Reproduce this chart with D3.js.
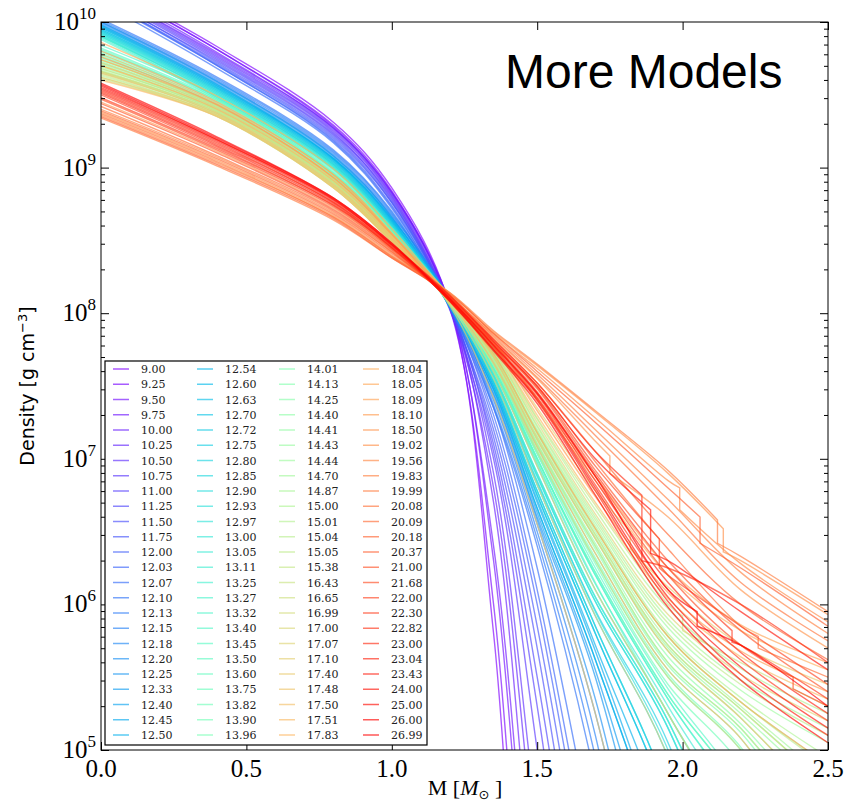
<!DOCTYPE html>
<html><head><meta charset="utf-8">
<script src="https://cdn.jsdelivr.net/npm/d3@7"></script>
<style>body{margin:0;background:#fff}</style>
</head><body>
<svg id="c" width="850" height="804"></svg>
<script>
// ---- data (log10 density) ----
const massGrid = [0, 0.4, 0.8, 1.0, 1.2, 1.35, 1.5, 1.7, 1.95, 2.2, 2.5];
const modelLabels = ["9.00","9.25","9.50","9.75","10.00","10.25","10.50","10.75","11.00","11.25","11.50","11.75","12.00","12.03","12.07","12.10","12.13","12.15","12.18","12.20","12.25","12.33","12.40","12.45","12.50",
"12.54","12.60","12.63","12.70","12.72","12.75","12.80","12.85","12.90","12.93","12.97","13.00","13.05","13.11","13.25","13.27","13.32","13.40","13.45","13.50","13.60","13.75","13.82","13.90","13.96",
"14.01","14.13","14.25","14.40","14.41","14.43","14.44","14.70","14.87","15.00","15.01","15.04","15.05","15.38","16.43","16.65","16.99","17.00","17.07","17.10","17.40","17.48","17.50","17.51","17.83",
"18.04","18.05","18.09","18.10","18.50","19.02","19.56","19.83","19.99","20.08","20.09","20.18","20.37","21.00","21.68","22.00","22.30","22.82","23.00","23.04","23.43","24.00","25.00","26.00","26.99"];
const logRho = [
[10.27,9.83,9.31,8.86,8.05,5.8,2.0,0,0,0,0],
[10.25,9.81,9.29,8.84,8.03,6.0,2.5,0,0,0,0],
[10.26,9.81,9.28,8.83,8.06,6.3,3.0,0,0,0,0],
[10.22,9.78,9.27,8.83,8.04,6.4,3.3,0,0,0,0],
[10.24,9.79,9.27,8.82,8.07,6.7,3.8,1,0,0,0],
[10.21,9.76,9.25,8.80,8.03,6.8,4.2,1,0,0,0],
[10.22,9.77,9.26,8.81,8.05,6.9,4.5,1.5,0,0,0],
[10.19,9.74,9.23,8.79,8.02,7.0,5.0,2,0,0,0],
[10.20,9.75,9.24,8.78,8.06,7.05,5.3,2.5,0,0,0],
[10.17,9.73,9.22,8.77,8.04,7.1,5.5,3,0,0,0],
[10.18,9.72,9.21,8.76,8.05,7.15,5.7,3.2,0,0,0],
[10.16,9.71,9.20,8.76,8.03,7.2,5.85,3.5,0,0,0],
[10.15,9.70,9.19,8.74,8.06,7.25,6.0,3.8,1,0,0],
[10.16,9.70,9.18,8.73,8.04,7.3,6.1,4.0,1,0,0],
[10.13,9.68,9.17,8.72,8.05,7.35,6.25,4.3,1.5,0,0],
[10.02,9.62,9.12,8.70,8.04,7.35,6.4,4.8,2,0,0],
[10.00,9.60,9.10,8.68,8.08,7.37,6.45,4.95,2.2,0,0],
[10.01,9.61,9.11,8.69,8.05,7.4,6.5,5.1,2.5,0,0],
[9.99,9.59,9.09,8.67,8.09,7.42,6.55,5.25,3.0,0.5,0],
[9.98,9.58,9.08,8.66,8.06,7.44,6.58,5.35,3.2,1,0],
[10.00,9.59,9.08,8.66,8.04,7.45,6.6,5.5,3.5,1,0],
[9.97,9.57,9.07,8.65,8.08,7.47,6.63,5.55,3.8,1.5,0],
[9.96,9.56,9.06,8.64,8.05,7.48,6.66,5.62,4.1,1.5,0],
[9.98,9.57,9.06,8.65,8.10,7.5,6.7,5.68,4.2,2,0],
[9.95,9.55,9.05,8.63,8.06,7.5,6.72,5.72,4.4,2,0],
[9.97,9.56,9.06,8.64,8.04,7.48,6.66,5.62,4.1,1.5,0],
[9.94,9.54,9.04,8.62,8.08,7.52,6.75,5.8,4.6,2.5,0],
[9.96,9.55,9.05,8.63,8.07,7.53,6.78,5.85,4.7,2.8,0],
[9.93,9.53,9.03,8.61,8.05,7.55,6.82,5.92,4.95,3.2,0],
[9.95,9.54,9.04,8.62,8.09,7.52,6.75,5.8,4.6,2.5,0],
[9.92,9.52,9.02,8.60,8.06,7.55,6.84,5.96,5.05,3.5,1],
[9.94,9.53,9.03,8.61,8.08,7.57,6.88,6.02,5.15,3.8,1],
[9.91,9.51,9.02,8.60,8.05,7.53,6.78,5.85,4.7,2.8,0],
[9.93,9.52,9.02,8.60,8.09,7.58,6.9,6.05,5.2,4.0,1.5],
[9.90,9.50,9.01,8.59,8.06,7.56,6.85,5.95,5.0,3.4,1],
[9.92,9.51,9.01,8.59,8.07,7.6,6.95,6.1,5.25,4.3,2],
[9.90,9.50,9.00,8.58,8.10,7.57,6.88,6.02,5.15,3.8,1],
[9.91,9.49,9.00,8.58,8.06,7.6,6.97,6.14,5.3,4.45,2.5],
[9.89,9.48,8.99,8.57,8.08,7.58,6.9,6.05,5.2,4.0,1.5],
[9.90,9.48,8.99,8.57,8.07,7.62,7.0,6.2,5.35,4.6,3],
[9.88,9.47,8.98,8.57,8.09,7.62,7.0,6.22,5.38,4.7,3.2],
[9.84,9.49,8.99,8.59,8.07,7.62,7.0,6.2,5.35,4.6,3.2],
[9.80,9.46,8.96,8.57,8.10,7.63,7.03,6.25,5.42,4.75,3.5],
[9.82,9.47,8.97,8.58,8.06,7.6,6.98,6.15,5.25,4.4,3],
[9.78,9.44,8.95,8.56,8.11,7.65,7.05,6.3,5.5,5.0,4.0],
[9.81,9.46,8.96,8.57,8.08,7.62,7.0,6.22,5.38,4.7,3.2],
[9.76,9.43,8.94,8.55,8.09,7.66,7.08,6.35,5.55,5.08,4.2],
[9.79,9.45,8.95,8.56,8.07,7.64,7.04,6.28,5.45,4.9,3.8],
[9.74,9.42,8.93,8.54,8.10,7.68,7.1,6.4,5.6,5.15,4.4],
[9.77,9.43,8.94,8.55,8.06,7.65,7.06,6.32,5.52,5.02,4.1],
[9.72,9.41,8.92,8.54,8.09,7.7,7.13,6.45,5.68,5.22,4.6],
[9.75,9.42,8.93,8.54,8.08,7.67,7.09,6.38,5.58,5.12,4.3],
[9.70,9.40,8.91,8.53,8.11,7.7,7.15,6.48,5.72,5.28,4.75],
[9.73,9.41,8.92,8.53,8.07,7.69,7.11,6.42,5.64,5.18,4.5],
[9.68,9.39,8.90,8.52,8.10,7.72,7.18,6.52,5.78,5.33,4.9],
[9.71,9.40,8.91,8.52,8.08,7.7,7.14,6.46,5.7,5.25,4.7],
[9.66,9.38,8.89,8.51,8.12,7.73,7.2,6.56,5.84,5.41,5.05],
[9.69,9.39,8.90,8.52,8.07,7.71,7.17,6.5,5.75,5.3,4.8],
[9.65,9.37,8.88,8.50,8.11,7.74,7.23,6.6,5.9,5.48,5.15],
[9.67,9.38,8.89,8.51,8.08,7.72,7.19,6.54,5.8,5.36,4.95],
[9.63,9.36,8.87,8.50,8.12,7.76,7.27,6.65,5.97,5.56,5.25],
[9.66,9.37,8.88,8.50,8.09,7.72,7.18,6.52,5.78,5.33,4.88],
[9.62,9.35,8.86,8.49,8.10,7.74,7.22,6.58,5.87,5.45,5.1],
[9.64,9.36,8.87,8.50,8.08,7.68,7.1,6.4,5.6,5.15,4.4],
[9.68,9.39,8.90,8.52,8.11,7.77,7.28,6.68,6.0,5.6,5.3],
[9.61,9.35,8.86,8.49,8.07,7.65,7.05,6.3,5.5,5.0,4.0],
[9.70,9.40,8.91,8.53,8.09,7.7,7.15,6.48,5.72,5.28,4.75],
[9.74,9.42,8.93,8.54,8.06,7.55,6.82,5.92,4.95,3.2,0],
[9.66,9.38,8.89,8.51,8.12,7.75,7.25,6.62,5.93,5.52,5.2],
[9.72,9.41,8.92,8.53,8.08,7.6,6.95,6.1,5.25,4.3,2],
[9.62,9.36,8.87,8.50,8.13,7.78,7.35,6.78,6.12,5.72,5.45],
[9.78,9.44,8.95,8.55,8.05,7.42,6.55,5.25,3.0,0.5,0],
[9.65,9.37,8.88,8.51,8.10,7.7,7.13,6.45,5.68,5.22,4.6],
[9.60,9.35,8.86,8.49,8.12,7.77,7.3,6.7,6.04,5.64,5.35],
[9.70,9.40,8.91,8.52,8.08,7.66,7.08,6.35,5.55,5.08,4.2],
[9.86,9.49,8.99,8.58,8.11,7.8,7.4,6.85,6.2,5.82,5.55],
[9.74,9.43,8.93,8.54,8.09,7.72,7.18,6.52,5.78,5.33,4.9],
[9.80,9.45,8.95,8.55,8.12,7.8,7.42,6.88,6.25,5.86,5.6],
[9.76,9.43,8.93,8.54,8.10,7.78,7.33,6.74,6.08,5.68,5.4],
[9.45,9.11,8.72,8.44,8.12,7.83,7.55,7.12,6.6,6.1,5.7],
[9.38,9.05,8.67,8.40,8.13,7.87,7.64,7.32,6.9,6.30,5.93],
[9.36,9.03,8.66,8.39,8.14,7.86,7.62,7.28,6.85,6.28,5.88],
[9.40,9.07,8.69,8.42,8.11,7.85,7.58,7.2,6.72,6.22,5.8],
[9.34,9.01,8.64,8.38,8.14,7.88,7.65,7.33,6.92,6.33,5.95],
[9.37,9.04,8.66,8.39,8.12,7.84,7.56,7.16,6.66,6.15,5.75],
[9.42,9.08,8.70,8.42,8.10,7.8,7.5,6.98,6.38,5.85,5.5],
[9.39,9.06,8.68,8.41,8.12,7.82,7.52,7.05,6.48,6.0,5.62],
[9.35,9.02,8.65,8.38,8.13,7.86,7.6,7.25,6.8,6.25,5.85],
[9.44,9.10,8.71,8.43,8.10,7.8,7.48,6.92,6.3,5.82,5.4],
[9.47,9.12,8.73,8.44,8.09,7.78,7.45,6.88,6.2,5.72,5.3],
[9.50,9.14,8.74,8.45,8.11,7.8,7.49,6.95,6.2,5.85,5.45],
[9.48,9.13,8.74,8.45,8.09,7.76,7.42,6.82,6.1,5.62,5.2],
[9.52,9.16,8.76,8.46,8.10,7.79,7.46,6.9,6.25,5.72,5.35],
[9.53,9.17,8.76,8.46,8.11,7.82,7.52,7.05,6.25,6.0,5.6],
[9.51,9.15,8.75,8.45,8.09,7.77,7.44,6.85,6.15,5.67,5.25],
[9.54,9.18,8.77,8.47,8.08,7.75,7.4,6.78,6.02,5.52,5.1],
[9.55,9.19,8.78,8.47,8.12,7.81,7.5,7.0,6.3,5.95,5.55],
[9.56,9.19,8.78,8.47,8.09,7.75,7.41,6.8,6.05,5.57,5.15],
[9.58,9.21,8.79,8.48,8.08,7.74,7.38,6.75,5.98,5.48,5.05],
[9.57,9.20,8.79,8.48,8.10,7.78,7.45,6.88,6.1,5.72,5.3]
];
// shell-interface jumps: [model index, mass, log rho above, log rho below]
const steps = [
[80,2.14,6.52,6.36],[83,2.12,6.58,6.42],[81,1.99,6.80,6.65],[87,2.06,6.60,6.42],
[93,1.86,6.75,6.30],[96,1.89,6.65,6.35],[90,1.92,6.45,6.25],[99,2.05,5.95,5.85],
[92,2.17,5.82,5.74],[85,2.26,5.78,5.70],[89,2.38,5.50,5.42],[79,1.75,7.02,6.90],
[70,1.82,6.50,6.38],[64,2.00,5.92,5.82]
];
const xTickValues = [0, 0.5, 1.0, 1.5, 2.0, 2.5];
const xTickLabels = ["0.0","0.5","1.0","1.5","2.0","2.5"];
const yDecades = [5, 6, 7, 8, 9, 10];

// ---- drawing ----
const L = 101, R = 828, T = 22, B = 750;
const svg = d3.select('#c');
const x = d3.scaleLinear().domain([0, 2.5]).range([L, R]);
const y = d3.scaleLog().domain([1e5, 1e10]).range([B, T]);

function rainbow(t) {
  const r = Math.min(1, Math.abs(2 * t - 0.5));
  const g = Math.sin(Math.PI * t);
  const b = Math.cos(Math.PI * t / 2);
  return d3.rgb(r * 255, g * 255, b * 255).formatHex();
}
const n = modelLabels.length;
const color = i => rainbow(i / (n - 1));

svg.append('rect').attr('x', 0).attr('y', 0).attr('width', 850).attr('height', 804).attr('fill', '#fff');
svg.append('clipPath').attr('id', 'clip').append('rect')
  .attr('x', L).attr('y', T).attr('width', R - L).attr('height', B - T);

const lineSmooth = d3.line()
  .x(d => x(d[0]))
  .y(d => y(Math.pow(10, d[1])))
  .curve(d3.curveCatmullRom.alpha(0.5));

// each profile is a smooth curve; at a shell jump the curve is split and joined by a vertical drop
const paths = logRho.map((vals, k) => {
  const pts = massGrid.map((m, i) => [m, vals[i]]);
  const st = steps.filter(s => s[0] === k).sort((a, b) => a[1] - b[1]);
  const pieces = [];
  let cur = [];
  let si = 0;
  pts.forEach(p => {
    while (si < st.length && st[si][1] < p[0]) {
      cur.push([st[si][1], st[si][2]]);
      pieces.push(cur);
      cur = [[st[si][1], st[si][3]]];
      si++;
    }
    cur.push(p);
  });
  pieces.push(cur);
  return pieces.map((pc, j) => {
    const s = lineSmooth(pc);
    return j === 0 ? s : 'L' + s.slice(1);
  }).join('');
});

const gLines = svg.append('g').attr('clip-path', 'url(#clip)');
gLines.selectAll('path').data(paths).enter().append('path')
  .attr('d', d => d)
  .attr('fill', 'none')
  .attr('stroke', (d, i) => color(i))
  .attr('stroke-opacity', 0.66)
  .attr('stroke-width', 1.4);

// axes (inward ticks, mirrored)
const minor = [];
yDecades.slice(0, -1).forEach(d => { for (let m = 2; m <= 9; m++) minor.push(m * Math.pow(10, d)); });
const major = yDecades.map(d => Math.pow(10, d));

const axL = svg.append('g').attr('transform', `translate(${L},0)`)
  .call(d3.axisRight(y).tickValues(major).tickSize(8).tickFormat(''));
const axLm = svg.append('g').attr('transform', `translate(${L},0)`)
  .call(d3.axisRight(y).tickValues(minor).tickSize(4).tickFormat(''));
const axR = svg.append('g').attr('transform', `translate(${R},0)`)
  .call(d3.axisLeft(y).tickValues(major).tickSize(8).tickFormat(''));
const axRm = svg.append('g').attr('transform', `translate(${R},0)`)
  .call(d3.axisLeft(y).tickValues(minor).tickSize(4).tickFormat(''));
const axB = svg.append('g').attr('transform', `translate(0,${B})`)
  .call(d3.axisTop(x).tickValues(xTickValues).tickSize(8).tickFormat(''));
const axT = svg.append('g').attr('transform', `translate(0,${T})`)
  .call(d3.axisBottom(x).tickValues(xTickValues).tickSize(8).tickFormat(''));
[axL, axLm, axR, axRm, axB, axT].forEach(a => {
  a.select('.domain').remove();
  a.selectAll('line').attr('stroke', '#000').attr('stroke-width', 1);
});
svg.append('rect').attr('x', L).attr('y', T).attr('width', R - L).attr('height', B - T)
  .attr('fill', 'none').attr('stroke', '#000').attr('stroke-width', 1);

// tick labels
const serif = "'Liberation Serif', 'DejaVu Serif', serif";
svg.append('g').selectAll('text').data(xTickValues).enter().append('text')
  .attr('x', d => x(d)).attr('y', B + 27)
  .attr('text-anchor', 'middle').attr('font-family', serif).attr('font-size', 25)
  .attr('fill', '#000').text((d, i) => xTickLabels[i]);

const yl = svg.append('g').selectAll('text').data(yDecades).enter().append('text')
  .attr('x', L - 5).attr('y', d => y(Math.pow(10, d)) + 8)
  .attr('text-anchor', 'end').attr('font-family', serif).attr('font-size', 25).attr('fill', '#000');
yl.append('tspan').text('10');
yl.append('tspan').attr('dy', -11).attr('font-size', 17).text(d => String(d));

// axis titles
const xt = svg.append('text').attr('x', 465).attr('y', 795).attr('text-anchor', 'middle')
  .attr('font-family', serif).attr('font-size', 22).attr('fill', '#000');
xt.append('tspan').text('M [');
xt.append('tspan').attr('font-style', 'italic').text('M');
xt.append('tspan').attr('dy', 4).attr('font-size', 13).attr('font-family', "'DejaVu Sans', sans-serif").text('\u2299');
xt.append('tspan').attr('dy', -4).text(' ]');

const ytl = svg.append('text').attr('transform', 'translate(34,386) rotate(-90)')
  .attr('text-anchor', 'middle').attr('font-family', "'DejaVu Sans', sans-serif")
  .attr('font-size', 19).attr('fill', '#000');
ytl.append('tspan').text('Density [g cm');
ytl.append('tspan').attr('dy', -7).attr('font-size', 13).text('\u22123');
ytl.append('tspan').attr('dy', 7).text(']');

// legend
const rowsPerCol = 25;
const colX = [113, 197, 279, 363];
const legend = svg.append('g');
legend.append('rect').attr('x', 105).attr('y', 361).attr('width', 322).attr('height', 384)
  .attr('fill', '#fff').attr('stroke', '#000').attr('stroke-width', 1.2);
const items = legend.selectAll('g.it').data(modelLabels).enter().append('g').attr('class', 'it')
  .attr('transform', (d, i) => `translate(${colX[Math.floor(i / rowsPerCol)]},${369 + (i % rowsPerCol) * 15.25})`);
items.append('line').attr('x1', 0).attr('x2', 16).attr('y1', 0).attr('y2', 0)
  .attr('stroke', (d, i) => color(i)).attr('stroke-opacity', 0.66).attr('stroke-width', 1.5);
items.append('text').attr('x', 28).attr('y', 4)
  .attr('font-family', "'DejaVu Serif', serif").attr('font-size', 11).attr('fill', '#222')
  .text(d => d);

// annotation
svg.append('text').attr('x', 505).attr('y', 88).attr('font-family', "'Liberation Sans', Arial, sans-serif")
  .attr('font-size', 48).attr('fill', '#000').text('More Models');
</script>
</body></html>
